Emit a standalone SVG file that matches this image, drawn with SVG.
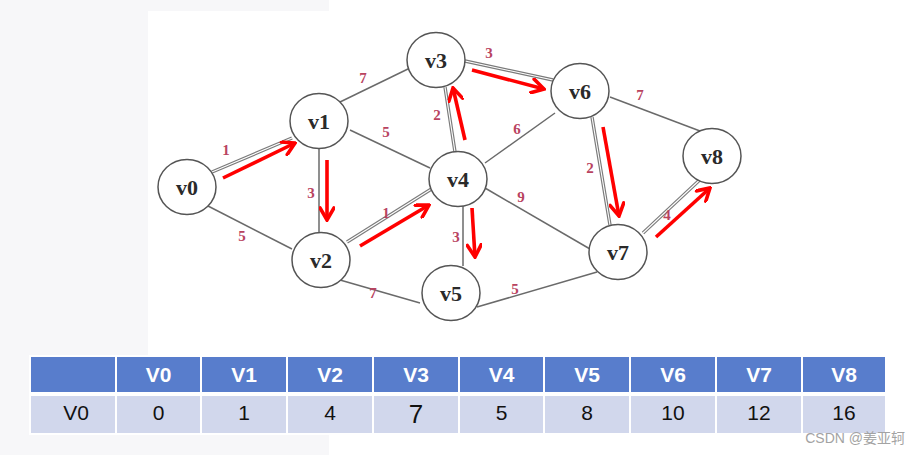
<svg xmlns="http://www.w3.org/2000/svg" width="921" height="455" viewBox="0 0 921 455">
<style>
.e{stroke:#6a6a6a;stroke-width:1.5;fill:none}
.e2{stroke:#7a7a7a;stroke-width:3.4;fill:none}
.e2w{stroke:#fff;stroke-width:1.1;fill:none}
.nd ellipse{fill:#fff;stroke:#555;stroke-width:1.5}
.nd text{font-family:"Liberation Serif","DejaVu Serif",serif;font-weight:bold;font-size:22px;fill:#2a2a2a;text-anchor:middle}
.w{font-family:"Liberation Serif","DejaVu Serif",serif;font-weight:bold;font-size:15px;fill:#b9435f;text-anchor:middle}
.ar{stroke:#f00;stroke-width:3.6;fill:none;marker-end:url(#ah)}
.hc{fill:#587dcc}
.dc{fill:#d1d7ec}
.ht{font-family:"Liberation Sans",Arial,sans-serif;font-weight:bold;font-size:21px;fill:#fff;text-anchor:middle}
.dt{font-family:"Liberation Sans",Arial,sans-serif;font-size:21px;fill:#111;text-anchor:middle}
</style>
<defs>
<marker id="ah" viewBox="0 0 16 16" refX="14" refY="8" markerWidth="16" markerHeight="16" markerUnits="userSpaceOnUse" orient="auto">
<path d="M2,1 L14,8 L2,15" fill="none" stroke="#f00" stroke-width="3.6" stroke-linecap="round" stroke-linejoin="miter"/>
</marker>
</defs>
<rect width="921" height="455" fill="#fff"/>
<path d="M0,0 H329 V11 H148 V355 H29 V435 H329 V455 H0 Z" fill="#f7f7f9"/>

<g id="connectors">
<line class="e" x1="208" y1="206" x2="292" y2="249"/>
<line class="e" x1="319" y1="149" x2="319" y2="233"/>
<line class="e" x1="340" y1="102" x2="410" y2="68"/>
<line class="e" x1="350" y1="130" x2="430" y2="168"/>
<line class="e" x1="340" y1="280" x2="420" y2="303"/>
<line class="e" x1="485" y1="163" x2="555" y2="113"/>
<line class="e" x1="463" y1="206" x2="463" y2="266"/>
<line class="e" x1="485" y1="188" x2="590" y2="249"/>
<line class="e" x1="477" y1="307" x2="597" y2="272"/>
<line class="e" x1="610" y1="97" x2="700" y2="131"/>
<line class="e2" x1="212" y1="172" x2="292" y2="138"/><line class="e2w" x1="212" y1="172" x2="292" y2="138"/>
<line class="e2" x1="347" y1="242" x2="433" y2="188"/><line class="e2w" x1="347" y1="242" x2="433" y2="188"/>
<line class="e2" x1="445" y1="87" x2="455" y2="152"/><line class="e2w" x1="445" y1="87" x2="455" y2="152"/>
<line class="e2" x1="465" y1="61" x2="553" y2="80"/><line class="e2w" x1="465" y1="61" x2="553" y2="80"/>
<line class="e2" x1="592" y1="117" x2="610" y2="225"/><line class="e2w" x1="592" y1="117" x2="610" y2="225"/>
<line class="e2" x1="643" y1="233" x2="705" y2="175"/><line class="e2w" x1="643" y1="233" x2="705" y2="175"/>
<text class="w" x="226" y="155">1</text>
<text class="w" x="363" y="83">7</text>
<text class="w" x="386" y="137">5</text>
<text class="w" x="437" y="120">2</text>
<text class="w" x="489" y="58">3</text>
<text class="w" x="640" y="100">7</text>
<text class="w" x="517" y="134">6</text>
<text class="w" x="590" y="173">2</text>
<text class="w" x="311" y="198">3</text>
<text class="w" x="242" y="241">5</text>
<text class="w" x="386" y="218">1</text>
<text class="w" x="456" y="242">3</text>
<text class="w" x="373" y="298">7</text>
<text class="w" x="521" y="202">9</text>
<text class="w" x="667" y="220">4</text>
<text class="w" x="515" y="294">5</text>
<line class="ar" x1="223" y1="178" x2="295" y2="143"/>
<line class="ar" x1="327" y1="160" x2="327" y2="220"/>
<line class="ar" x1="360" y1="246" x2="429" y2="205"/>
<line class="ar" x1="465" y1="140" x2="453" y2="88"/>
<line class="ar" x1="472" y1="70" x2="544" y2="89"/>
<line class="ar" x1="603" y1="127" x2="619" y2="216"/>
<line class="ar" x1="472" y1="208" x2="475" y2="257"/>
<line class="ar" x1="656" y1="237" x2="710" y2="188"/>
</g>

<g id="v0" class="nd"><ellipse cx="187" cy="187" rx="29" ry="27.5"/><text x="187" y="195">v0</text></g>
<g id="v1" class="nd"><ellipse cx="319" cy="121" rx="29" ry="27.5"/><text x="319" y="129">v1</text></g>
<g id="v2" class="nd"><ellipse cx="321" cy="260" rx="29" ry="27.5"/><text x="321" y="268">v2</text></g>
<g id="v3" class="nd"><ellipse cx="436" cy="60" rx="29" ry="27.5"/><text x="436" y="68">v3</text></g>
<g id="v4" class="nd"><ellipse cx="458" cy="179" rx="29" ry="27.5"/><text x="458" y="187">v4</text></g>
<g id="v5" class="nd"><ellipse cx="451" cy="293" rx="29" ry="27.5"/><text x="451" y="301">v5</text></g>
<g id="v6" class="nd"><ellipse cx="580" cy="91" rx="29" ry="27.5"/><text x="580" y="99">v6</text></g>
<g id="v7" class="nd"><ellipse cx="618" cy="252" rx="29" ry="27.5"/><text x="618" y="260">v7</text></g>
<g id="v8" class="nd"><ellipse cx="712" cy="156" rx="29" ry="27.5"/><text x="712" y="164">v8</text></g>

<g id="table">
<rect x="29" y="355" width="858" height="80" fill="#fff"/>
<rect class="hc" x="31" y="357" width="84" height="35"/>
<rect class="hc" x="117" y="357" width="83" height="35"/>
<rect class="hc" x="202" y="357" width="84" height="35"/>
<rect class="hc" x="288" y="357" width="84" height="35"/>
<rect class="hc" x="374" y="357" width="84" height="35"/>
<rect class="hc" x="460" y="357" width="83" height="35"/>
<rect class="hc" x="545" y="357" width="84" height="35"/>
<rect class="hc" x="631" y="357" width="84" height="35"/>
<rect class="hc" x="717" y="357" width="84" height="35"/>
<rect class="hc" x="803" y="357" width="82" height="35"/>
<rect class="dc" x="31" y="396" width="84" height="37"/>
<rect class="dc" x="117" y="396" width="83" height="37"/>
<rect class="dc" x="202" y="396" width="84" height="37"/>
<rect class="dc" x="288" y="396" width="84" height="37"/>
<rect class="dc" x="374" y="396" width="84" height="37"/>
<rect class="dc" x="460" y="396" width="83" height="37"/>
<rect class="dc" x="545" y="396" width="84" height="37"/>
<rect class="dc" x="631" y="396" width="84" height="37"/>
<rect class="dc" x="717" y="396" width="84" height="37"/>
<rect class="dc" x="803" y="396" width="82" height="37"/>
<text class="ht" x="158.5" y="382">V0</text>
<text class="ht" x="244" y="382">V1</text>
<text class="ht" x="330" y="382">V2</text>
<text class="ht" x="416" y="382">V3</text>
<text class="ht" x="501.5" y="382">V4</text>
<text class="ht" x="587" y="382">V5</text>
<text class="ht" x="673" y="382">V6</text>
<text class="ht" x="759" y="382">V7</text>
<text class="ht" x="844" y="382">V8</text>
<text class="dt" x="76" y="420">V0</text>
<text class="dt" x="158.5" y="420">0</text>
<text class="dt" x="244" y="420">1</text>
<text class="dt" x="330" y="420">4</text>
<text class="dt" x="416" y="423" style="font-size:26px">7</text>
<text class="dt" x="501.5" y="420">5</text>
<text class="dt" x="587" y="420">8</text>
<text class="dt" x="673" y="420">10</text>
<text class="dt" x="759" y="420">12</text>
<text class="dt" x="844" y="420">16</text>
</g>
<text x="905" y="443" text-anchor="end" font-family="Liberation Sans,'Noto Sans CJK SC',sans-serif" font-size="14" fill="#a3a3a3">CSDN @姜亚轲</text>
</svg>
